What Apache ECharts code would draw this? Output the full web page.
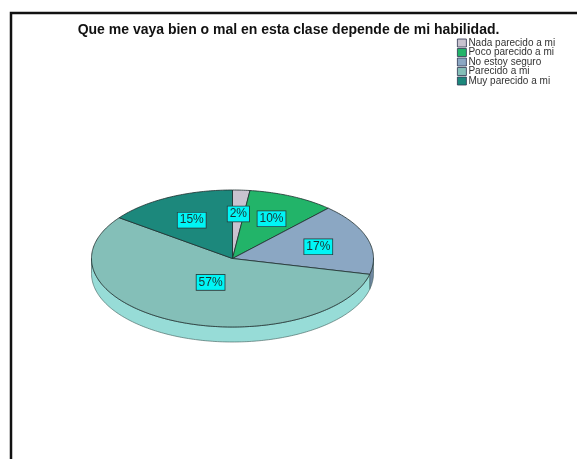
<!DOCTYPE html>
<html>
<head>
<meta charset="utf-8">
<script src="https://cdn.jsdelivr.net/npm/echarts@6/dist/echarts.min.js"></script>
<style>
  html, body { margin: 0; padding: 0; background: #fff; }
  #main { width: 577px; height: 459px; }
</style>
</head>
<body>
<div id="main"></div>
<script>
// categorias y valores (porcentajes)
const categories = ['Nada parecido a mi', 'Poco parecido a mi', 'No estoy seguro', 'Parecido a mi', 'Muy parecido a mi']
const values = [2, 10, 17, 57, 15]
const labels = ['2%', '10%', '17%', '57%', '15%']
const topColors = ['#c9c3cf', '#22b469', '#8ba7c3', '#84bfb8', '#1c887c']
const sideColors = ['#aaa4b0', '#1a9455', '#7088a2', '#97dcd7', '#166c62']

// pie "3D" elíptico
const cx = 232.5
const cy = 258.5
const rx = 141
const ry = 68.5
const depth = 15

const total = values.reduce((a, b) => a + b, 0)
const starts = []
let acc = 0
values.forEach(v => { starts.push(acc / total * Math.PI * 2); acc += v })

function pt(theta, dy) {
  return [cx + rx * Math.sin(theta), cy - ry * Math.cos(theta) + dy]
}

function arc(a0, a1, dy) {
  const pts = []
  const n = Math.max(2, Math.ceil((a1 - a0) / (Math.PI / 180)))
  for (let k = 0; k <= n; k++) {
    pts.push(pt(a0 + (a1 - a0) * k / n, dy))
  }
  return pts
}

function makeRender(i) {
  return function(params, api) {
    const a0 = starts[i]
    const a1 = a0 + values[i] / total * Math.PI * 2
    const children = []
    // pared lateral (solo la mitad frontal)
    const s0 = Math.max(a0, Math.PI / 2)
    const s1 = Math.min(a1, Math.PI * 1.5)
    if (s1 > s0) {
      const pts = arc(s0, s1, 0).concat(arc(s0, s1, depth).reverse())
      children.push({
        type: 'polygon',
        z2: 1,
        shape: { points: pts },
        style: { fill: sideColors[i], stroke: '#3d5a58', lineWidth: 0.6 }
      })
    }
    // cara superior
    children.push({
      type: 'polygon',
      z2: 10,
      shape: { points: [[cx, cy]].concat(arc(a0, a1, 0)) },
      style: { fill: topColors[i], stroke: '#1f2f2f', lineWidth: 0.8 }
    })
    // etiqueta en el centroide del sector
    const alpha = a1 - a0
    const f = 4 * Math.sin(alpha / 2) / (3 * alpha)
    const mid = (a0 + a1) / 2
    children.push({
      type: 'text',
      z2: 20,
      style: {
        text: labels[i],
        x: cx + rx * f * Math.sin(mid),
        y: cy - ry * f * Math.cos(mid) + 1,
        align: 'center',
        verticalAlign: 'middle',
        fontSize: 12,
        fontFamily: 'Liberation Sans, Arial, sans-serif',
        fill: '#1a3333',
        backgroundColor: '#00f5f5',
        borderColor: '#2a3a3a',
        borderWidth: 0.8,
        padding: [2, 2, 1, 2]
      }
    })
    return { type: 'group', children: children }
  }
}

const chartDom = echarts.init(document.getElementById('main'))
const option = {
  animation: false,
  backgroundColor: '#fff',
  title: {
    text: 'Que me vaya bien o mal en esta clase depende de mi habilidad.',
    left: 'center',
    top: 18,
    textStyle: {
      fontSize: 14,
      fontWeight: 'bold',
      fontFamily: 'Liberation Sans, Arial, sans-serif',
      color: '#111'
    }
  },
  legend: {
    orient: 'vertical',
    left: 452,
    top: 33,
    itemWidth: 9,
    itemHeight: 8,
    itemGap: -0.5,
    icon: 'rect',
    data: categories,
    itemStyle: { borderColor: '#2d3550', borderWidth: 0.8 },
    textStyle: {
      fontSize: 10,
      lineHeight: 8,
      fontFamily: 'Liberation Sans, Arial, sans-serif',
      color: '#333',
      padding: [0, 0, 0, -3]
    }
  },
  graphic: [
    {
      type: 'polyline',
      shape: { points: [[11, 470], [11, 13], [590, 13]] },
      style: { stroke: '#111', lineWidth: 2.5, fill: null }
    }
  ],
  series: categories.map((name, i) => ({
    name: name,
    type: 'custom',
    coordinateSystem: 'none',
    itemStyle: { color: topColors[i], borderColor: '#333', borderWidth: 0.6 },
    renderItem: makeRender(i),
    data: [values[i]]
  }))
}
chartDom.setOption(option)
</script>
</body>
</html>
